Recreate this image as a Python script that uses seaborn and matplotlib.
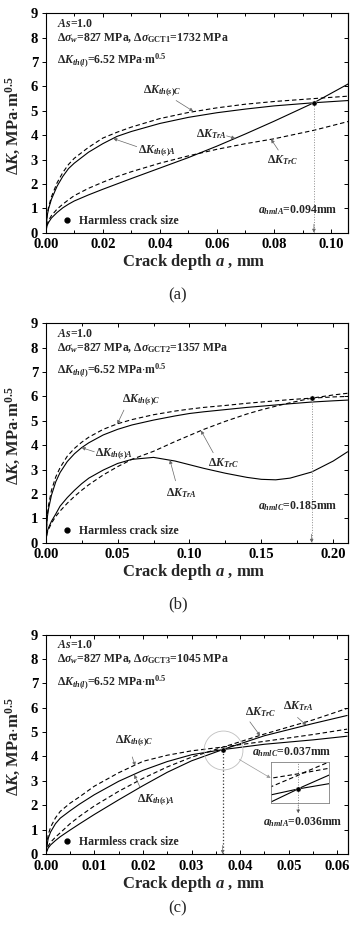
import matplotlib
matplotlib.use("Agg")
import numpy as np
import pandas as pd
import matplotlib.pyplot as plt
import seaborn as sns
from matplotlib.lines import Line2D
from matplotlib.ticker import MultipleLocator, FormatStrFormatter

# ---- panel (a): dsigma_GCT1 = 1732 MPa
a_a = [0, 0.0005, 0.001, 0.002, 0.004, 0.006, 0.008, 0.01, 0.015, 0.02,
       0.025, 0.03, 0.04, 0.05, 0.06, 0.07, 0.08, 0.094, 0.106]
thA_a = [0, 0.69, 0.98, 1.37, 1.91, 2.31, 2.63, 2.85, 3.3, 3.65,
         3.95, 4.15, 4.48, 4.73, 4.92, 5.07, 5.2, 5.33, 5.42]
thC_a = [0, 0.75, 1.05, 1.47, 2.05, 2.47, 2.8, 3.05, 3.5, 3.88,
         4.12, 4.33, 4.68, 4.93, 5.12, 5.27, 5.38, 5.5, 5.6]
trA_a = [0, 0.3, 0.42, 0.6, 0.83, 1.02, 1.17, 1.3, 1.55, 1.78,
         2.0, 2.22, 2.65, 3.08, 3.55, 4.05, 4.57, 5.33, 6.1]
trC_a = [0, 0.35, 0.5, 0.7, 0.97, 1.17, 1.35, 1.52, 1.82, 2.07,
         2.3, 2.5, 2.85, 3.15, 3.42, 3.65, 3.85, 4.2, 4.56]
hml_a = (0.094, 5.33)

# ---- panel (b): dsigma_GCT2 = 1357 MPa
a_b = [0, 0.001, 0.002, 0.004, 0.007, 0.01, 0.015, 0.02, 0.025, 0.03,
       0.04, 0.05, 0.06, 0.075, 0.09, 0.1, 0.11, 0.125, 0.14, 0.15,
       0.16, 0.17, 0.185, 0.2, 0.21]
thA_b = [0, 1.0, 1.4, 1.95, 2.5, 2.88, 3.33, 3.65, 3.9, 4.1,
         4.42, 4.65, 4.83, 5.03, 5.2, 5.3, 5.37, 5.46, 5.55, 5.6,
         5.65, 5.7, 5.77, 5.82, 5.85]
thC_b = [0, 1.1, 1.55, 2.15, 2.7, 3.08, 3.55, 3.87, 4.12, 4.33,
         4.65, 4.88, 5.05, 5.25, 5.4, 5.48, 5.55, 5.63, 5.72, 5.77,
         5.82, 5.87, 5.93, 5.98, 6.0]
trC_b = [0, 0.4, 0.55, 0.8, 1.08, 1.3, 1.62, 1.9, 2.15, 2.38,
         2.78, 3.12, 3.42, 3.75, 4.15, 4.4, 4.65, 4.98, 5.28, 5.45,
         5.6, 5.74, 5.93, 6.06, 6.13]
trA_b = [0, 0.45, 0.62, 0.88, 1.18, 1.5, 1.85, 2.15, 2.42, 2.65,
         2.98, 3.25, 3.42, 3.5, 3.35, 3.2, 3.05, 2.85, 2.68, 2.6,
         2.58, 2.65, 2.9, 3.35, 3.73]
hml_b = (0.185, 5.93)

# ---- panel (c): dsigma_GCT3 = 1045 MPa
a_c = [0, 0.0005, 0.001, 0.002, 0.003, 0.005, 0.007, 0.01, 0.015, 0.02,
       0.025, 0.03, 0.0364, 0.0366, 0.045, 0.055, 0.062]
thC_c = [0, 0.78, 1.1, 1.48, 1.75, 2.08, 2.35, 2.78, 3.33, 3.8,
         4.05, 4.23, 4.385, 4.39, 4.62, 4.9, 5.12]
trC_c = [0, 0.32, 0.48, 0.69, 0.87, 1.24, 1.55, 1.97, 2.57, 3.1,
         3.57, 3.97, 4.375, 4.39, 4.92, 5.5, 5.97]
trA_c = [0, 0.24, 0.37, 0.55, 0.71, 0.98, 1.24, 1.62, 2.22, 2.8,
         3.35, 3.82, 4.28, 4.295, 4.85, 5.35, 5.68]
thA_c = [0, 0.63, 0.9, 1.24, 1.47, 1.77, 2.05, 2.43, 2.98, 3.43,
         3.79, 4.07, 4.28, 4.285, 4.5, 4.68, 4.83]
hml_cA = (0.0364, 4.28)
hml_cC = (0.0366, 4.39)

gct = ["1732", "1357", "1045"]

sns.set_style("ticks")
plt.rcParams.update({
    "font.family": ["Liberation Serif", "DejaVu Serif"],
    "font.weight": "bold",
    "mathtext.fontset": "custom",
    "mathtext.rm": "Liberation Serif:bold",
    "mathtext.it": "Liberation Serif:italic:bold",
    "mathtext.bf": "Liberation Serif:bold",
    "axes.linewidth": 0.8,
    "axes.edgecolor": "black",
    "xtick.color": "black",
    "ytick.color": "black",
})

SOLID = "-"
DASH = (0, (4, 2.5))
LW = 0.8
ARR = dict(arrowstyle="-|>", color="0.4", lw=0.5, mutation_scale=5, shrinkA=0, shrinkB=0)
letter_idx = {"a": "1", "b": "2", "c": "3"}


def long_df(a, curves):
    rows = []
    for name, vals in curves.items():
        rows.append(pd.DataFrame({"a": a, "dK": vals, "curve": name}))
    return pd.concat(rows, ignore_index=True)


def draw_curves(ax, df):
    styles = {"thA": SOLID, "thC": DASH, "trA": SOLID, "trC": DASH}
    for name, ls in styles.items():
        sub = df[df["curve"] == name]
        sns.lineplot(data=sub, x="a", y="dK", ax=ax, color="black", lw=LW,
                     linestyle=ls, estimator=None, sort=False, legend=False)


def setup(ax, xmax, major, minor, g, letter, letter_y):
    ax.set_xlim(0, xmax)
    ax.set_ylim(0, 9)
    ax.xaxis.set_major_locator(MultipleLocator(major))
    ax.xaxis.set_minor_locator(MultipleLocator(minor))
    ax.xaxis.set_major_formatter(FormatStrFormatter("%.2f"))
    ax.yaxis.set_major_locator(MultipleLocator(1))
    ax.tick_params(axis="x", which="both", direction="in", top=True, pad=4,
                   labelsize=10.5, length=3, width=0.7)
    ax.tick_params(axis="x", which="minor", length=2)
    ax.tick_params(axis="y", direction="out", pad=2.5, labelsize=10.5, length=3, width=0.7)
    sec = ax.secondary_yaxis("right")
    sec.yaxis.set_major_locator(MultipleLocator(1))
    sec.tick_params(direction="in", labelright=False, length=3, width=0.7)
    ax.set_xlabel(r"Crack depth $a$ , mm", fontsize=12, fontweight="bold")
    ax.xaxis.set_label_coords(0.49, -0.09)
    ax.set_ylabel(r"$\Delta K$, MPa$\cdot$m$^{0.5}$", fontsize=12, fontweight="bold")
    ax.yaxis.set_label_coords(-0.075, 0.49)
    ax.text(0.037, 0.939, r"$As$=1.0", transform=ax.transAxes, fontsize=8.5)
    ax.text(0.037, 0.875, r"$\Delta\sigma_w$=827 MPa, $\Delta\sigma_{\mathrm{GCT%s}}$=%s MPa"
            % (letter_idx[letter], g), transform=ax.transAxes, fontsize=8.5)
    ax.text(0.037, 0.772, r"$\Delta K_{th(l)}$=6.52 MPa$\cdot$m$^{0.5}$",
            transform=ax.transAxes, fontsize=8.5)
    ax.text(0.438, letter_y, "(%s)" % letter, transform=ax.transAxes, fontsize=12,
            fontweight="normal", ha="center", va="center")
    h = Line2D([], [], marker="o", ls="", color="black", ms=3.5)
    ax.legend([h], ["Harmless crack size"], loc="lower left", bbox_to_anchor=(0.05, 0.025),
              frameon=False, fontsize=8.5, handlelength=1.0, handletextpad=0.5,
              borderaxespad=0, borderpad=0)


fig = plt.figure(figsize=(3.56, 9.33), dpi=100)
ax_a = fig.add_axes([0.1284, 0.7506, 0.848, 0.2352])
ax_b = fig.add_axes([0.1284, 0.4183, 0.848, 0.2352])
ax_c = fig.add_axes([0.1284, 0.0847, 0.848, 0.2352])

# ---------------- (a)
df_a = long_df(a_a, {"thA": thA_a, "thC": thC_a, "trA": trA_a, "trC": trC_a})
draw_curves(ax_a, df_a)
setup(ax_a, 0.1058, 0.02, 0.01, gct[0], "a", -0.285)
ax_a.plot([hml_a[0]] * 2, [hml_a[1], 0], ls=":", color="0.55", lw=0.7)
ax_a.annotate("", xy=(hml_a[0], 0), xytext=(hml_a[0], 0.35), arrowprops=ARR)
sns.scatterplot(x=[hml_a[0]], y=[hml_a[1]], ax=ax_a, color="black", s=14, zorder=5)
ax_a.text(0.034, 5.8, r"$\Delta K_{th(s)C}$", fontsize=8.5, va="center")
ax_a.annotate("", xy=(0.0517, 4.98), xytext=(0.0457, 5.42), arrowprops=ARR)
ax_a.text(0.0325, 3.35, r"$\Delta K_{th(s)A}$", fontsize=8.5, va="center")
ax_a.annotate("", xy=(0.0237, 3.86), xytext=(0.0319, 3.53), arrowprops=ARR)
ax_a.text(0.0528, 4.05, r"$\Delta K_{TrA}$", fontsize=8.5, va="center")
ax_a.annotate("", xy=(0.0664, 3.87), xytext=(0.0634, 3.97), arrowprops=ARR)
ax_a.text(0.0775, 2.98, r"$\Delta K_{TrC}$", fontsize=8.5, va="center")
ax_a.annotate("", xy=(0.079, 3.83), xytext=(0.0815, 3.39), arrowprops=ARR)
ax_a.text(0.0744, 0.93, r"$a_{hmlA}$=0.094mm", fontsize=8.5, va="center")

# ---------------- (b)
df_b = long_df(a_b, {"thA": thA_b, "thC": thC_b, "trA": trA_b, "trC": trC_b})
draw_curves(ax_b, df_b)
setup(ax_b, 0.21, 0.05, 0.025, gct[1], "b", -0.283)
ax_b.plot([hml_b[0]] * 2, [hml_b[1], 0], ls=":", color="0.55", lw=0.7)
ax_b.annotate("", xy=(hml_b[0], 0), xytext=(hml_b[0], 0.35), arrowprops=ARR)
sns.scatterplot(x=[hml_b[0]], y=[hml_b[1]], ax=ax_b, color="black", s=14, zorder=5)
ax_b.text(0.0528, 5.86, r"$\Delta K_{th(s)C}$", fontsize=8.5, va="center")
ax_b.annotate("", xy=(0.0498, 4.87), xytext=(0.0544, 5.44), arrowprops=ARR)
ax_b.text(0.0343, 3.64, r"$\Delta K_{th(s)A}$", fontsize=8.5, va="center")
ax_b.annotate("", xy=(0.025, 3.9), xytext=(0.0338, 3.73), arrowprops=ARR)
ax_b.text(0.113, 3.28, r"$\Delta K_{TrC}$", fontsize=8.5, va="center")
ax_b.annotate("", xy=(0.108, 4.6), xytext=(0.1165, 3.69), arrowprops=ARR)
ax_b.text(0.084, 2.05, r"$\Delta K_{TrA}$", fontsize=8.5, va="center")
ax_b.annotate("", xy=(0.0864, 3.39), xytext=(0.0903, 2.54), arrowprops=ARR)
ax_b.text(0.1478, 1.5, r"$a_{hmlC}$=0.185mm", fontsize=8.5, va="center")

# ---------------- (c)
df_c = long_df(a_c, {"thA": thA_c, "thC": thC_c, "trA": trA_c, "trC": trC_c})
draw_curves(ax_c, df_c)
setup(ax_c, 0.0621, 0.01, 0.005, gct[2], "c", -0.25)
ax_c.plot([hml_cA[0]] * 2, [hml_cA[1], 0], ls=":", color="0.2", lw=0.9)
ax_c.annotate("", xy=(hml_cA[0], 0), xytext=(hml_cA[0], 0.35), arrowprops=ARR)
sns.scatterplot(x=[hml_cA[0]], y=[hml_cA[1]], ax=ax_c, color="black", s=14, zorder=5)
ax_c.plot([hml_cA[0]], [hml_cA[1]], marker="o", ms=28, mfc="none", mec="0.75", mew=0.6)
ax_c.text(0.0143, 4.62, r"$\Delta K_{th(s)C}$", fontsize=8.5, va="center")
ax_c.annotate("", xy=(0.0184, 3.62), xytext=(0.0178, 3.98), arrowprops=ARR)
ax_c.text(0.0187, 2.22, r"$\Delta K_{th(s)A}$", fontsize=8.5, va="center")
ax_c.annotate("", xy=(0.0182, 3.25), xytext=(0.0194, 2.74), arrowprops=ARR)
ax_c.text(0.041, 5.8, r"$\Delta K_{TrC}$", fontsize=8.5, va="center")
ax_c.annotate("", xy=(0.0441, 4.85), xytext=(0.042, 5.42), arrowprops=ARR)
ax_c.text(0.0489, 6.06, r"$\Delta K_{TrA}$", fontsize=8.5, va="center")
ax_c.annotate("", xy=(0.0536, 5.28), xytext=(0.0518, 5.6), arrowprops=ARR)
ax_c.text(0.0425, 4.16, r"$a_{hmlC}$=0.037mm", fontsize=8.5, va="center")
ax_c.text(0.0447, 1.32, r"$a_{hmlA}$=0.036mm", fontsize=8.5, va="center")

# zoomed inset around the two intersections
ax_in = ax_c.inset_axes([0.745, 0.231, 0.193, 0.19])
draw_curves(ax_in, df_c)
ax_in.set_xlim(0.03512, 0.03782)
ax_in.set_ylim(4.18, 4.47)
ax_in.set_xticks([])
ax_in.set_yticks([])
ax_in.set_xlabel("")
ax_in.set_ylabel("")
for s in ax_in.spines.values():
    s.set_color("0.5")
    s.set_linewidth(0.6)
ax_in.axvline(hml_cA[0], ls=":", color="0.5", lw=0.7)
sns.scatterplot(x=[hml_cA[0]], y=[hml_cA[1]], ax=ax_in, color="black", s=14, zorder=5)
ax_c.annotate("", xy=(0.745, 0.346), xycoords="axes fraction",
              xytext=hml_cA, textcoords="data",
              arrowprops=dict(arrowstyle="-|>", color="0.6", lw=0.5, mutation_scale=5,
                              shrinkA=14, shrinkB=0))
ax_c.annotate("", xy=(hml_cC[0], hml_cC[1]), xycoords=ax_in.transData,
              xytext=(0.815, 0.39), textcoords="axes fraction",
              arrowprops=dict(arrowstyle="-|>", color="0.3", lw=0.5, ls="-.",
                              mutation_scale=5, shrinkA=0, shrinkB=0))
ax_c.annotate("", xy=(0.8365, 0.185), xycoords="axes fraction",
              xytext=(0.8365, 0.231), textcoords="axes fraction",
              arrowprops=dict(arrowstyle="-|>", color="0.3", lw=0.5, ls=":",
                              mutation_scale=5, shrinkA=0, shrinkB=0))

fig.savefig("out.png", dpi=100)
